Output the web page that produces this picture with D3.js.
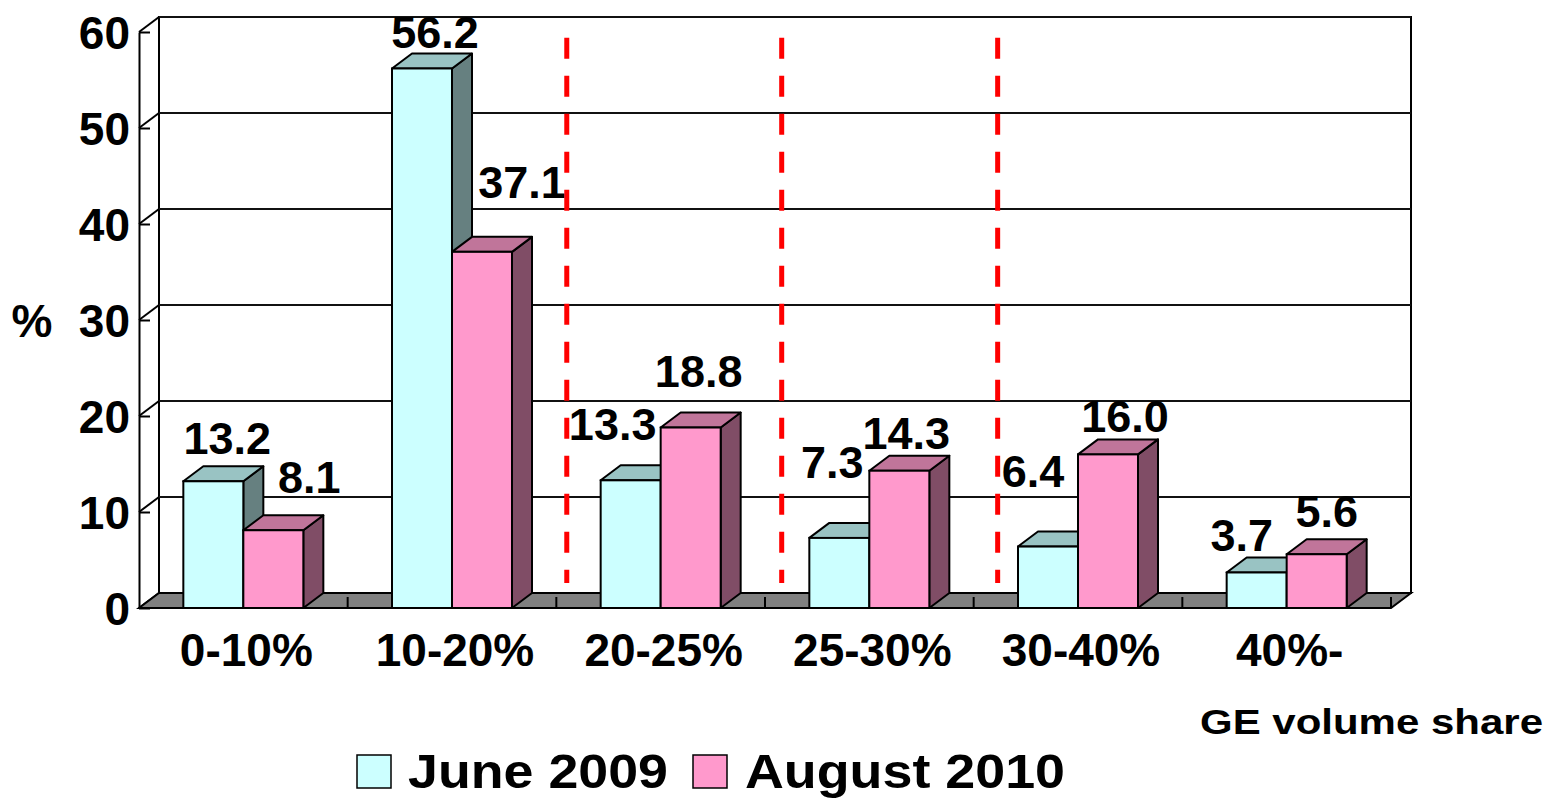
<!DOCTYPE html>
<html>
<head>
<meta charset="utf-8">
<script src="https://cdn.jsdelivr.net/npm/d3@7"></script>
<style>
  html, body { margin: 0; padding: 0; background: #fff; }
  svg { display: block; }
  text { font-family: "Liberation Sans", Arial, sans-serif; font-weight: bold; fill: #000; }
</style>
</head>
<body>
<svg id="chart" width="1552" height="799"></svg>
<script>
// ---- data ----
const categories = ["0-10%", "10-20%", "20-25%", "25-30%", "30-40%", "40%-"];
const seriesNames = ["June 2009", "August 2010"];
const june2009 = [13.2, 56.2, 13.3, 7.3, 6.4, 3.7];
const august2010 = [8.1, 37.1, 18.8, 14.3, 16.0, 5.6];
const yTicks = [0, 10, 20, 30, 40, 50, 60];
const yAxisTitle = "%";
const xAxisTitle = "GE volume share";
// red dashed separators, in category units along the axis
const dividerAt = [2.05, 3.08, 4.115];
const dividerSpan = [2.6, 59.4];
// hand-placed value label nudges (px) as in the original
const labelNudgeX = [[4, 3, -28, -17, -25, -25], [26, 30, -2, -3, 7, 0]];
const labelNudgeY = [[-6, 1, -19, -39, -39, 0], [-16, -33, -20, -1, -1, -6]];

const seriesValues = [june2009, august2010];
const frontColors = ["#CCFFFF", "#FF99CC"];
const topColors = ["#99C3C3", "#C0759A"];
const sideColors = ["#668080", "#804D66"];

// ---- layout ----
const svg = d3.select("#chart");
const DX = 20, DY = -15;
const x = d3.scaleBand().domain(categories).range([139, 1391]).padding(0);
const groupW = 120;
const xs = d3.scaleBand().domain(seriesNames).range([0, groupW]).padding(0);
const gOff = (x.bandwidth() - groupW) / 2;
const y = d3.scaleLinear().domain([0, 60]).range([608, 32]);
const u = d3.scaleLinear().domain([0, categories.length]).range([139, 1391]);

const y0 = y(0), yMax = y(60);
const xL = x.range()[0], xR = x.range()[1];

// back wall
svg.append("rect")
  .attr("x", xL + DX).attr("y", yMax + DY)
  .attr("width", xR - xL).attr("height", y0 - yMax)
  .attr("fill", "#fff").attr("stroke", "#000").attr("stroke-width", 2);

// gridlines on back wall + side wall diagonals
const grid = svg.append("g");
yTicks.filter(t => t > 0).forEach(t => {
  grid.append("line")
    .attr("x1", xL + DX).attr("x2", xR + DX)
    .attr("y1", y(t) + DY).attr("y2", y(t) + DY)
    .attr("stroke", "#111").attr("stroke-width", 2);
});
yTicks.forEach(t => {
  grid.append("line")
    .attr("x1", xL).attr("y1", y(t))
    .attr("x2", xL + DX).attr("y2", y(t) + DY)
    .attr("stroke", "#000").attr("stroke-width", 2);
});

// floor
svg.append("polygon")
  .attr("points", [[xL, y0], [xR, y0], [xR + DX, y0 + DY], [xL + DX, y0 + DY]].map(p => p.join(",")).join(" "))
  .attr("fill", "#808080").attr("stroke", "#000").attr("stroke-width", 2);

// floor ticks at category boundaries
categories.forEach((c, i) => {
  const bx = x(c) + x.bandwidth();
  svg.append("line")
    .attr("x1", bx).attr("x2", bx)
    .attr("y1", y0).attr("y2", y0 - 11)
    .attr("stroke", "#000").attr("stroke-width", 2);
});

// y axis
const yAxis = svg.append("g")
  .attr("transform", `translate(${xL},0)`)
  .call(d3.axisLeft(y).tickValues(yTicks).tickSizeInner(-11).tickSizeOuter(0).tickPadding(9));
yAxis.select(".domain").attr("stroke", "#000").attr("stroke-width", 2);
yAxis.selectAll(".tick line").attr("stroke", "#000").attr("stroke-width", 2);
yAxis.selectAll(".tick text")
  .attr("font-size", 46).attr("font-family", null).attr("fill", "#000")
  .attr("dy", "0.36em");
yAxis.attr("font-family", null).attr("font-size", null);

svg.append("text")
  .attr("x", 32).attr("y", y(30)).attr("dy", "0.36em")
  .attr("text-anchor", "middle").attr("font-size", 46)
  .text(yAxisTitle);

// bars
const bars = svg.append("g");
categories.forEach((c, i) => {
  seriesNames.forEach((s, si) => {
    const v = seriesValues[si][i];
    const bx = x(c) + gOff + xs(s);
    const w = xs.bandwidth();
    const yt = y(v);
    const g = bars.append("g");
    g.append("polygon")
      .attr("points", [[bx + w, yt], [bx + w + DX, yt + DY], [bx + w + DX, y0 + DY], [bx + w, y0]].map(p => p.join(",")).join(" "))
      .attr("fill", sideColors[si]).attr("stroke", "#000").attr("stroke-width", 2).attr("stroke-linejoin", "round");
    g.append("polygon")
      .attr("points", [[bx, yt], [bx + w, yt], [bx + w + DX, yt + DY], [bx + DX, yt + DY]].map(p => p.join(",")).join(" "))
      .attr("fill", topColors[si]).attr("stroke", "#000").attr("stroke-width", 2).attr("stroke-linejoin", "round");
    g.append("rect")
      .attr("x", bx).attr("y", yt).attr("width", w).attr("height", y0 - yt)
      .attr("fill", frontColors[si]).attr("stroke", "#000").attr("stroke-width", 2);
  });
});

// value labels
const labels = svg.append("g");
categories.forEach((c, i) => {
  seriesNames.forEach((s, si) => {
    const v = seriesValues[si][i];
    const bx = x(c) + gOff + xs(s);
    const w = xs.bandwidth();
    labels.append("text")
      .attr("x", bx + w / 2 + DX / 2 + labelNudgeX[si][i])
      .attr("y", y(v) + DY - 6 + labelNudgeY[si][i])
      .attr("text-anchor", "middle").attr("font-size", 45)
      .text(v.toFixed(1));
  });
});

// category labels
categories.forEach(c => {
  svg.append("text")
    .attr("x", x(c) + x.bandwidth() / 2 + 3).attr("y", 666)
    .attr("text-anchor", "middle").attr("font-size", 46)
    .text(c);
});

// red dashed dividers
dividerAt.forEach(d => {
  svg.append("line")
    .attr("x1", u(d)).attr("x2", u(d))
    .attr("y1", y(dividerSpan[1])).attr("y2", y(dividerSpan[0]))
    .attr("stroke", "#FF0000").attr("stroke-width", 5)
    .attr("stroke-dasharray", "21 17");
});

// x axis title
svg.append("text")
  .attr("x", 1200).attr("y", 734)
  .attr("font-size", 35)
  .attr("textLength", 343).attr("lengthAdjust", "spacingAndGlyphs")
  .text(xAxisTitle);

// legend
const legendItems = [
  { box: 357, tx: 408, len: 260 },
  { box: 693, tx: 745, len: 320 }
];
seriesNames.forEach((s, si) => {
  const it = legendItems[si];
  svg.append("rect")
    .attr("x", it.box).attr("y", 755).attr("width", 34).attr("height", 33)
    .attr("fill", frontColors[si]).attr("stroke", "#000").attr("stroke-width", 1.5);
  svg.append("text")
    .attr("x", it.tx).attr("y", 788)
    .attr("font-size", 49)
    .attr("textLength", it.len).attr("lengthAdjust", "spacingAndGlyphs")
    .text(s);
});
</script>
</body>
</html>
